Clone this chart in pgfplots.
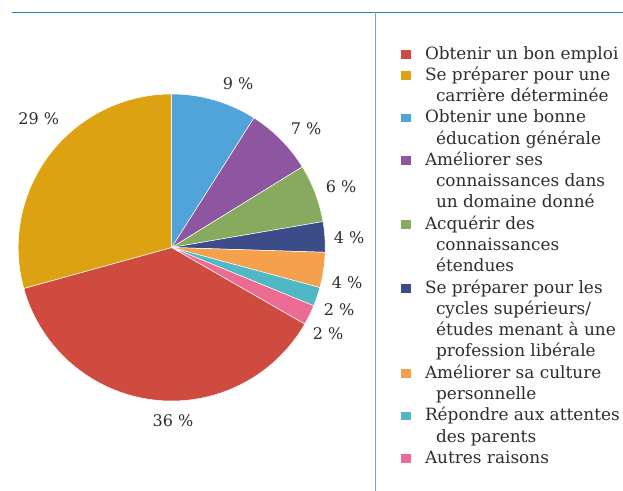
\documentclass[border=0pt]{standalone}
\usepackage{fontspec}
\setmainfont{DejaVu Serif}
\usepackage{pgfplots}
\usepgfplotslibrary{polar}
\pgfplotsset{compat=1.18}

\definecolor{cred}{RGB}{207,74,63}
\definecolor{cgold}{RGB}{220,162,17}
\definecolor{cblue}{RGB}{80,164,218}
\definecolor{cpurple}{RGB}{142,86,160}
\definecolor{cgreen}{RGB}{134,171,94}
\definecolor{cnavy}{RGB}{60,76,136}
\definecolor{corange}{RGB}{244,160,77}
\definecolor{cteal}{RGB}{80,183,196}
\definecolor{cpink}{RGB}{236,107,147}
\definecolor{txt}{RGB}{45,45,45}
\definecolor{frameblue}{RGB}{30,128,192}
\definecolor{framelight}{RGB}{100,172,216}

% one slice: share (%), colour, first legend line; slices run clockwise
\gdef\angA{330.12}
\newcommand\pieslice[3]{%
  \pgfmathsetmacro\angB{\angA-3.6*#1}%
  \edef\doslice{\noexpand\addplot[fill=#2, draw=white, line width=0.5pt,
    data cs=polar, domain=\angB:\angA, samples=80]}%
  \doslice ({x},{1}) -- (axis cs:0,0) -- cycle;
  \addlegendentry{#3}%
  \global\let\angA\angB}
% continuation line of a legend entry
\newcommand\legline[1]{\addlegendimage{empty legend}\addlegendentry{\hspace*{11bp}#1}}

\begin{document}
\begin{tikzpicture}
\useasboundingbox (0,0) rectangle (623bp,491bp);
\draw[frameblue, line width=1.6bp] (12bp,478.5bp) -- (623bp,478.5bp);
\draw[framelight, line width=1.2bp] (375.7bp,478.5bp) -- (375.7bp,0bp);

\begin{axis}[
    at={(171.7bp,243.5bp)}, anchor=center,
    scale only axis, width=307bp, height=307bp,
    xmin=-1, xmax=1, ymin=-1, ymax=1,
    hide axis, clip=false,
    legend image code/.code={\fill[#1, draw=none] (0bp,0.5bp) rectangle (10bp,9.2bp);},
    legend style={at={(1.24691,1.16254)}, anchor=north west,
        draw=none, fill=none, inner sep=0pt, outer sep=0pt,
        row sep=0pt, column sep=14bp, text=txt,
        font=\fontsize{16.9bp}{21.28bp}\selectfont,
        nodes={inner sep=0pt, outer sep=0pt, text height=14.9bp, text depth=6.38bp}},
    legend cell align=left,
    legend style={cells={anchor=base west}},
]
\pieslice{37.4}{cred}{Obtenir un bon emploi}
\pieslice{29.3}{cgold}{Se préparer pour une}
\legline{carrière déterminée}
\pieslice{9.0}{cblue}{Obtenir une bonne}
\legline{éducation générale}
\pieslice{7.2}{cpurple}{Améliorer ses}
\legline{connaissances dans}
\legline{un domaine donné}
\pieslice{6.1}{cgreen}{Acquérir des}
\legline{connaissances}
\legline{étendues}
\pieslice{3.2}{cnavy}{Se préparer pour les}
\legline{cycles supérieurs/}
\legline{études menant à une}
\legline{profession libérale}
\pieslice{3.7}{corange}{Améliorer sa culture}
\legline{personnelle}
\pieslice{2.0}{cteal}{Répondre aux attentes}
\legline{des parents}
\pieslice{2.1}{cpink}{Autres raisons}
\end{axis}

\begin{scope}[every node/.style={anchor=base, text=txt, inner sep=0pt,
    font=\fontsize{16bp}{19bp}\selectfont}]
\node at (238bp,401.7bp) {9 \%};
\node at (306bp,356bp) {7 \%};
\node at (341bp,298bp) {6 \%};
\node at (349bp,247bp) {4 \%};
\node at (347bp,202bp) {4 \%};
\node at (339bp,175bp) {2 \%};
\node at (328bp,151bp) {2 \%};
\node at (173bp,64.3bp) {36 \%};
\node at (38.7bp,366bp) {29 \%};
\end{scope}
\end{tikzpicture}
\end{document}
